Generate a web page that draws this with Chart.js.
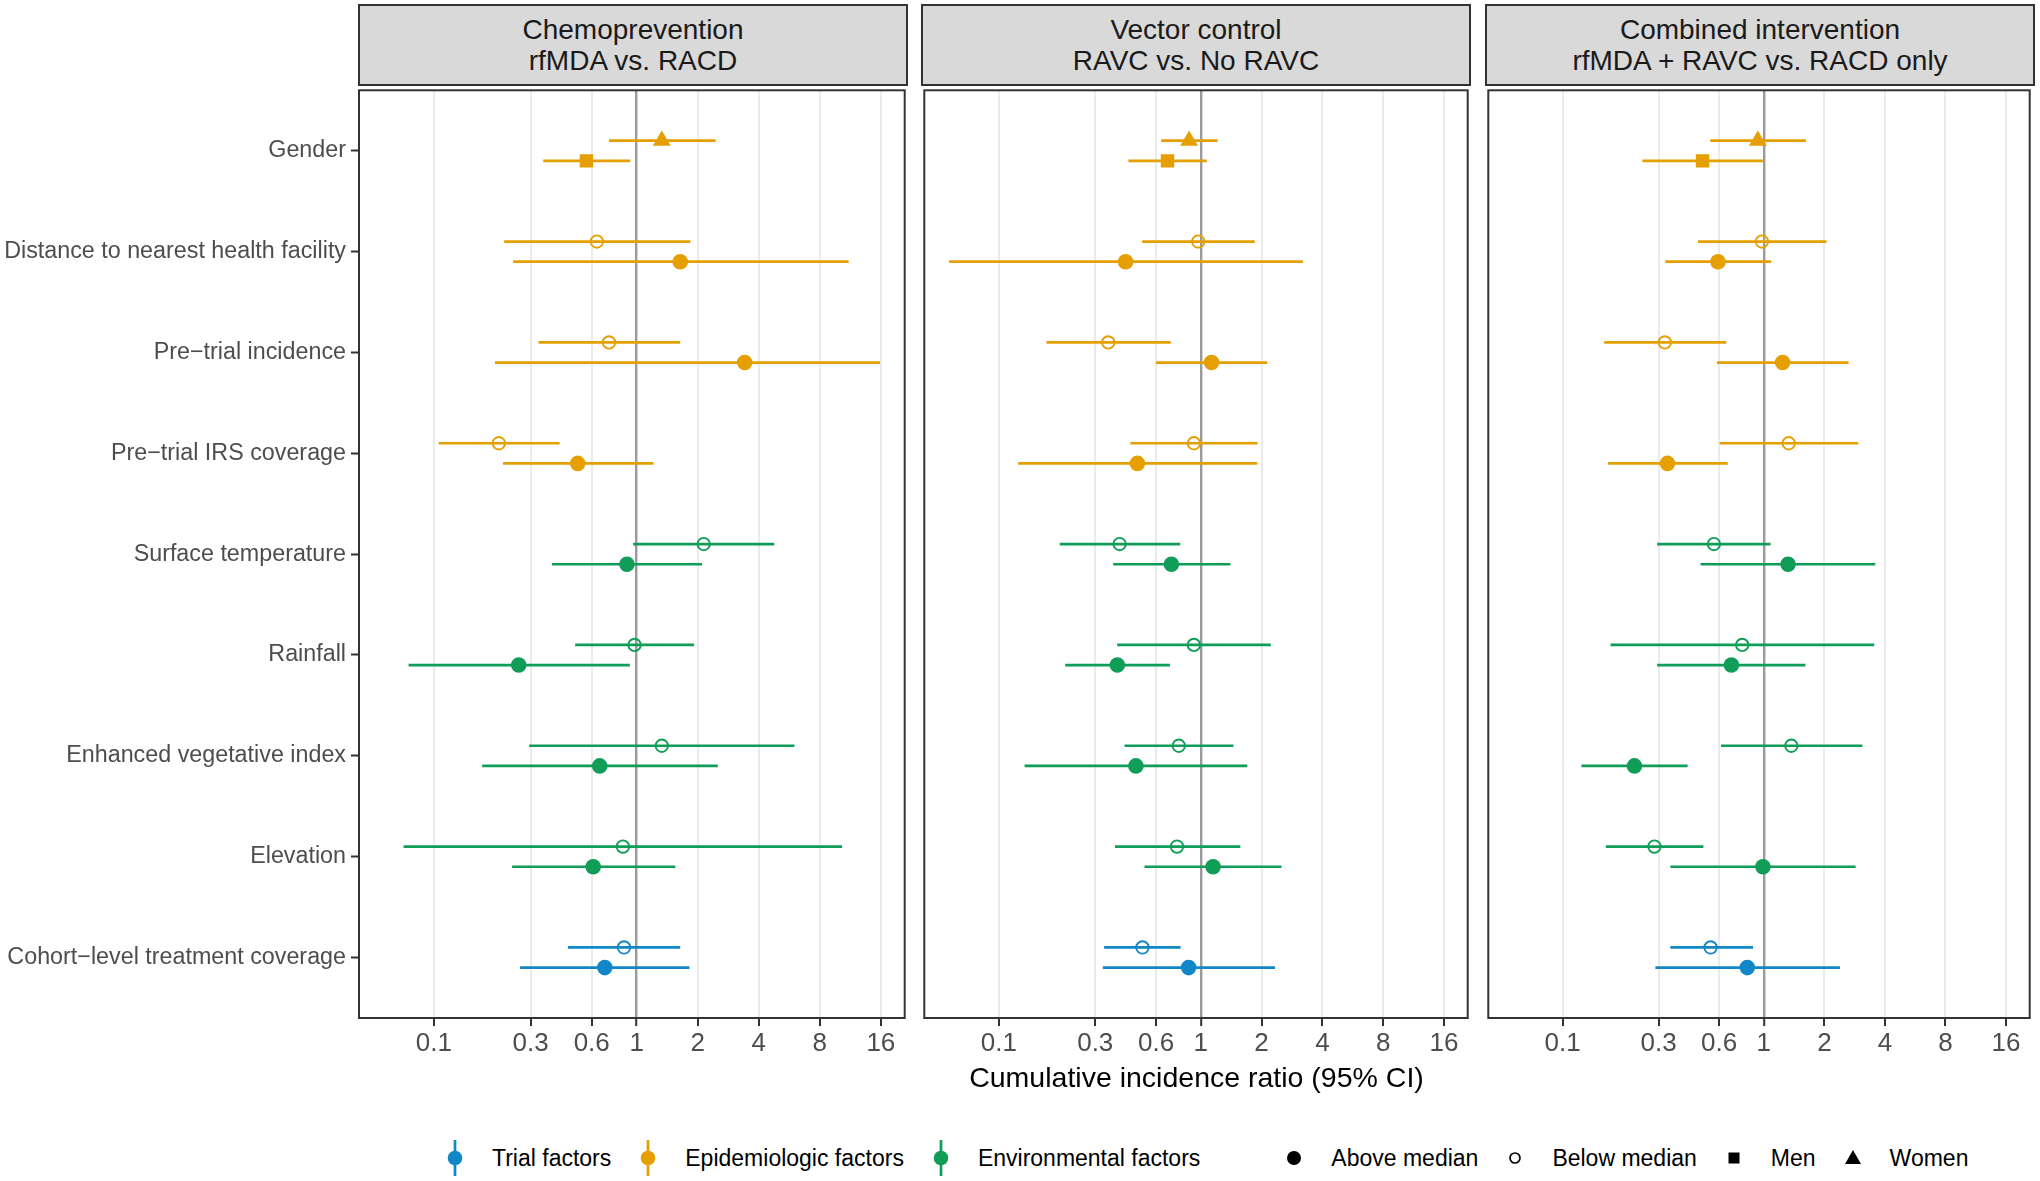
<!DOCTYPE html>
<html>
<head>
<meta charset="utf-8">
<script src="https://cdn.jsdelivr.net/npm/chart.js@4/dist/chart.umd.min.js"></script>
<style>
  body { margin: 0; width: 2040px; height: 1181px; background: #fff; position: relative; overflow: hidden;
         font-family: "Liberation Sans", Arial, sans-serif; }
  canvas { position: absolute; }
  .strip { position: absolute; top: 4px; height: 82px; width: 550px; box-sizing: border-box;
           background: #d9d9d9; border: 2px solid #333; display: flex; flex-direction: column;
           justify-content: center; align-items: center; font-size: 28px; line-height: 31px; color: #1a1a1a; }
  #xtitle { position: absolute; top: 1061px; left: 0; width: 2393px; text-align: center; font-size: 28.5px; color: #000; }
  #legend { position: absolute; top: 1140px; left: 443px; height: 36px; display: flex; align-items: center;
            font-size: 23px; color: #000; white-space: nowrap; }
  #legend .item { display: flex; align-items: center; margin-right: 25px; }
  #legend .item.gap { margin-right: 82px; }
  #legend svg { display: block; }
  #legend span { margin-left: 25px; }
</style>
</head>
<body>
<div id="strips"></div>
<canvas id="c1" width="915" height="990" style="left:0;top:80px"></canvas>
<canvas id="c2" width="564" height="990" style="left:914px;top:80px"></canvas>
<canvas id="c3" width="562" height="990" style="left:1478px;top:80px"></canvas>
<div id="xtitle">Cumulative incidence ratio (95% CI)</div>
<div id="legend"></div>
<script>
// rows, top to bottom
const factors = ['Gender', 'Distance to nearest health facility', 'Pre\u2212trial incidence',
  'Pre\u2212trial IRS coverage', 'Surface temperature', 'Rainfall', 'Enhanced vegetative index',
  'Elevation', 'Cohort\u2212level treatment coverage'];
const factorGroup = ['epi', 'epi', 'epi', 'epi', 'env', 'env', 'env', 'env', 'trial'];
// upper mark of each row / lower mark of each row
const upperGroup = ['Women', 'Below median', 'Below median', 'Below median', 'Below median',
  'Below median', 'Below median', 'Below median', 'Below median'];
const lowerGroup = ['Men', 'Above median', 'Above median', 'Above median', 'Above median',
  'Above median', 'Above median', 'Above median', 'Above median'];

const panelTitles = [['Chemoprevention', 'rfMDA vs. RACD'], ['Vector control', 'RAVC vs. No RAVC'],
  ['Combined intervention', 'rfMDA + RAVC vs. RACD only']];
const xTicks = [0.1, 0.3, 0.6, 1, 2, 4, 8, 16];

// Chemoprevention
const chemoUpperEst = [1.33, 0.636, 0.73, 0.209, 2.14, 0.976, 1.33, 0.855, 0.866];
const chemoUpperLo  = [0.73, 0.222, 0.328, 0.1055, 0.96, 0.497, 0.295, 0.0708, 0.458];
const chemoUpperHi  = [2.45, 1.84, 1.64, 0.417, 4.77, 1.92, 6.0, 10.3, 1.64];
const chemoLowerEst = [0.565, 1.64, 3.41, 0.512, 0.895, 0.262, 0.657, 0.61, 0.696];
const chemoLowerLo  = [0.346, 0.246, 0.2, 0.219, 0.382, 0.075, 0.173, 0.243, 0.266];
const chemoLowerHi  = [0.93, 11.1, 15.85, 1.21, 2.1, 0.925, 2.51, 1.55, 1.82];

// Vector control
const vectorUpperEst = [0.875, 0.971, 0.348, 0.924, 0.396, 0.924, 0.778, 0.762, 0.514];
const vectorUpperLo  = [0.636, 0.512, 0.172, 0.448, 0.2, 0.385, 0.419, 0.376, 0.332];
const vectorUpperHi  = [1.21, 1.85, 0.71, 1.91, 0.791, 2.22, 1.45, 1.57, 0.794];
const vectorLowerEst = [0.684, 0.424, 1.13, 0.485, 0.715, 0.386, 0.477, 1.15, 0.87];
const vectorLowerLo  = [0.438, 0.0566, 0.6, 0.1245, 0.368, 0.213, 0.134, 0.526, 0.327];
const vectorLowerHi  = [1.07, 3.2, 2.13, 1.905, 1.40, 0.703, 1.70, 2.51, 2.33];

// Combined intervention
const combUpperEst = [0.934, 0.979, 0.322, 1.33, 0.565, 0.781, 1.37, 0.286, 0.544];
const combUpperLo  = [0.542, 0.471, 0.161, 0.603, 0.295, 0.173, 0.613, 0.164, 0.343];
const combUpperHi  = [1.62, 2.05, 0.65, 2.95, 1.08, 3.54, 3.09, 0.501, 0.884];
const combLowerEst = [0.496, 0.592, 1.24, 0.332, 1.32, 0.69, 0.2275, 0.99, 0.828];
const combLowerLo  = [0.249, 0.324, 0.585, 0.168, 0.485, 0.295, 0.124, 0.343, 0.289];
const combLowerHi  = [0.99, 1.09, 2.64, 0.662, 3.58, 1.61, 0.418, 2.86, 2.39];

const groupColor = { trial: '#1287C8', epi: '#E69F00', env: '#0F9D58' };
const groupLabel = { trial: 'Trial factors', epi: 'Epidemiologic factors', env: 'Environmental factors' };
const shapes = {
  'Above median': { style: 'circle', radius: 7.8, filled: true },
  'Below median': { style: 'circle', radius: 6.2, filled: false },
  'Men': { style: 'rect', radius: 9.5, filled: true },
  'Women': { style: 'triangle', radius: 10.3, filled: true }
};
const dodge = 0.1;

// strips
const stripLefts = [358, 921, 1485];
panelTitles.forEach((t, i) => {
  const d = document.createElement('div');
  d.className = 'strip';
  d.style.left = stripLefts[i] + 'px';
  d.innerHTML = `<div>${t[0]}</div><div>${t[1]}</div>`;
  document.getElementById('strips').appendChild(d);
});

const panelBorder = {
  id: 'panelBorder',
  afterDraw(chart) {
    const { ctx, chartArea: a } = chart;
    ctx.save();
    ctx.strokeStyle = '#333';
    ctx.lineWidth = 2;
    ctx.strokeRect(a.left, a.top, a.right - a.left, a.bottom - a.top);
    ctx.restore();
  }
};

function makeDatasets(upEst, upLo, upHi, lowEst, lowLo, lowHi) {
  const rows = [];
  factors.forEach((f, i) => {
    const color = groupColor[factorGroup[i]];
    rows.push({ y: i - dodge, est: upEst[i], lo: upLo[i], hi: upHi[i], shape: shapes[upperGroup[i]], color });
    rows.push({ y: i + dodge, est: lowEst[i], lo: lowLo[i], hi: lowHi[i], shape: shapes[lowerGroup[i]], color });
  });
  const lines = rows.map(r => ({
    data: [{ x: r.lo, y: r.y }, { x: r.hi, y: r.y }],
    showLine: true, borderColor: r.color, borderWidth: 2.7, pointRadius: 0, order: 1
  }));
  const points = {
    data: rows.map(r => ({ x: r.est, y: r.y })),
    pointStyle: rows.map(r => r.shape.style),
    pointRadius: rows.map(r => r.shape.radius),
    pointBackgroundColor: rows.map(r => r.shape.filled ? r.color : 'rgba(0,0,0,0)'),
    pointBorderColor: rows.map(r => r.color),
    pointBorderWidth: rows.map(r => r.shape.filled ? 0 : 1.9),
    order: 0
  };
  return [points, ...lines];
}

function drawPanel(id, showY, padding, datasets) {
  const ctx = document.getElementById(id).getContext('2d');
  return new Chart(ctx, {
    type: 'scatter',
    data: { datasets },
    options: {
      responsive: false,
      animation: false,
      devicePixelRatio: 1,
      events: [],
      layout: { padding },
      plugins: { legend: { display: false }, tooltip: { enabled: false } },
      scales: {
        x: {
          type: 'logarithmic',
          min: 0.0427,
          max: 20.98,
          afterBuildTicks: axis => { axis.ticks = xTicks.map(v => ({ value: v })); },
          afterFit: axis => {
            axis.height = 52;
            axis.paddingLeft = 0; axis.paddingRight = 0;
          },
          border: { display: false },
          grid: {
            color: c => (c.tick && c.tick.value === 1 ? '#9a9a9a' : '#ebebeb'),
            lineWidth: c => (c.tick && c.tick.value === 1 ? 2.4 : 2),
            tickColor: '#333',
            tickWidth: 2,
            tickLength: 8
          },
          ticks: {
            autoSkip: false, maxRotation: 0, padding: 2,
            color: '#4d4d4d',
            font: { family: 'Liberation Sans', size: 26 },
            callback: v => String(v)
          }
        },
        y: {
          type: 'linear',
          display: showY,
          min: -0.6,
          max: 8.6,
          reverse: true,
          afterBuildTicks: axis => { axis.ticks = factors.map((f, i) => ({ value: i })); },
          afterFit: axis => {
            axis.width = showY ? 359 : 0;
            axis.paddingTop = 0; axis.paddingBottom = 0;
          },
          border: { display: false },
          grid: { drawOnChartArea: false, drawTicks: true, tickLength: 8, tickColor: '#333', tickWidth: 2 },
          ticks: {
            autoSkip: false, padding: 5,
            color: '#4d4d4d',
            font: { family: 'Liberation Sans', size: 23.3 },
            callback: v => factors[v]
          }
        }
      }
    },
    plugins: [panelBorder]
  });
}

drawPanel('c1', true, { top: 5, right: 8, bottom: 0, left: 0 },
  makeDatasets(chemoUpperEst, chemoUpperLo, chemoUpperHi, chemoLowerEst, chemoLowerLo, chemoLowerHi));
drawPanel('c2', false, { top: 5, right: 8, bottom: 0, left: 8 },
  makeDatasets(vectorUpperEst, vectorUpperLo, vectorUpperHi, vectorLowerEst, vectorLowerLo, vectorLowerHi));
drawPanel('c3', false, { top: 5, right: 6, bottom: 0, left: 8 },
  makeDatasets(combUpperEst, combUpperLo, combUpperHi, combLowerEst, combLowerLo, combLowerHi));

// legend
const legend = document.getElementById('legend');
const colorKeys = ['trial', 'epi', 'env'];
colorKeys.forEach((k, i) => {
  const c = groupColor[k];
  const item = document.createElement('div');
  item.className = 'item' + (i === colorKeys.length - 1 ? ' gap' : '');
  item.innerHTML = `<svg width="24" height="36"><line x1="12" y1="0" x2="12" y2="36" stroke="${c}" stroke-width="2.7"/>` +
    `<circle cx="12" cy="18" r="7.3" fill="${c}"/></svg><span>${groupLabel[k]}</span>`;
  legend.appendChild(item);
});
const shapeGlyph = {
  'Above median': '<circle cx="12" cy="18" r="7" fill="#000"/>',
  'Below median': '<circle cx="12" cy="18" r="5" fill="none" stroke="#000" stroke-width="1.7"/>',
  'Men': '<rect x="6.5" y="12.5" width="11" height="11" fill="#000"/>',
  'Women': '<polygon points="12,10 20,24 4,24" fill="#000"/>'
};
['Above median', 'Below median', 'Men', 'Women'].forEach(k => {
  const item = document.createElement('div');
  item.className = 'item';
  item.innerHTML = `<svg width="24" height="36">${shapeGlyph[k]}</svg><span>${k}</span>`;
  legend.appendChild(item);
});
</script>
</body>
</html>
